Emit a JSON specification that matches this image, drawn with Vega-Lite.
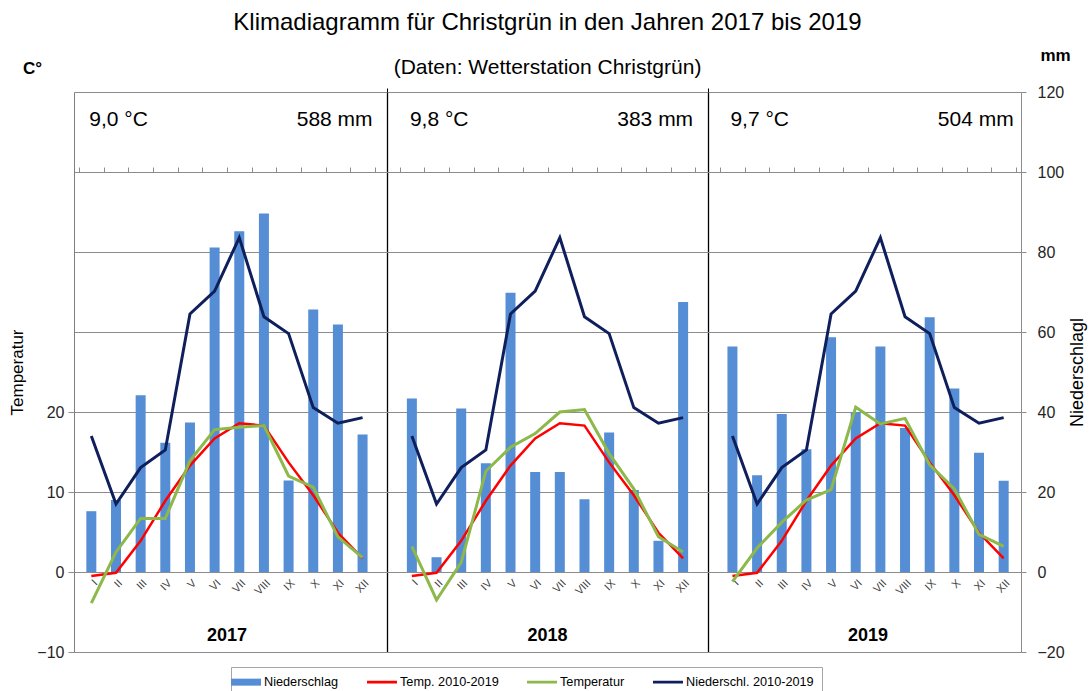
{
  "$schema": "https://vega.github.io/schema/vega-lite/v6.json",
  "width": 947,
  "height": 560,
  "autosize": {"type": "none"},
  "padding": {"left": 74, "top": 92, "right": 68, "bottom": 39},
  "title": {
    "text": "Klimadiagramm für Christgrün in den Jahren 2017 bis 2019",
    "subtitle": "(Daten: Wetterstation Christgrün)",
    "fontSize": 24,
    "fontWeight": "normal",
    "subtitleFontSize": 21,
    "subtitlePadding": 22,
    "anchor": "middle",
    "offset": -32,
    "color": "#000000",
    "subtitleColor": "#000000",
    "font": "Liberation Sans",
    "subtitleFont": "Liberation Sans"
  },
  "config": {
    "font": "Liberation Sans",
    "view": {"stroke": null},
    "axis": {
      "labelFont": "Liberation Sans",
      "titleFont": "Liberation Sans",
      "labelColor": "#262626",
      "titleColor": "#000000",
      "titleFontWeight": "normal",
      "domainColor": "#8c8c8c",
      "tickColor": "#8c8c8c",
      "gridColor": "#8c8c8c",
      "gridOpacity": 1
    }
  },
  "datasets": {
    "months": [
      {"m": 1, "year": "2017", "mon": "I", "N": 15.2, "T": -3.9, "TA": -0.5, "NA": 34.0},
      {"m": 2, "year": "2017", "mon": "II", "N": 18.0, "T": 2.5, "TA": -0.1, "NA": 17.0},
      {"m": 3, "year": "2017", "mon": "III", "N": 44.2, "T": 6.7, "TA": 3.9, "NA": 26.1},
      {"m": 4, "year": "2017", "mon": "IV", "N": 32.3, "T": 6.7, "TA": 8.9, "NA": 30.5},
      {"m": 5, "year": "2017", "mon": "V", "N": 37.4, "T": 13.9, "TA": 13.3, "NA": 64.5},
      {"m": 6, "year": "2017", "mon": "VI", "N": 81.1, "T": 17.8, "TA": 16.7, "NA": 70.2},
      {"m": 7, "year": "2017", "mon": "VII", "N": 85.2, "T": 18.1, "TA": 18.6, "NA": 83.6},
      {"m": 8, "year": "2017", "mon": "VIII", "N": 89.6, "T": 18.3, "TA": 18.3, "NA": 63.8},
      {"m": 9, "year": "2017", "mon": "IX", "N": 22.9, "T": 12.0, "TA": 13.7, "NA": 59.6},
      {"m": 10, "year": "2017", "mon": "X", "N": 65.6, "T": 10.6, "TA": 9.6, "NA": 41.1},
      {"m": 11, "year": "2017", "mon": "XI", "N": 61.9, "T": 4.4, "TA": 4.9, "NA": 37.2},
      {"m": 12, "year": "2017", "mon": "XII", "N": 34.4, "T": 1.8, "TA": 1.7, "NA": 38.6},
      {"m": 14, "year": "2018", "mon": "I", "N": 43.4, "T": 3.2, "TA": -0.5, "NA": 34.0},
      {"m": 15, "year": "2018", "mon": "II", "N": 3.7, "T": -3.5, "TA": -0.1, "NA": 17.0},
      {"m": 16, "year": "2018", "mon": "III", "N": 40.9, "T": 1.2, "TA": 3.9, "NA": 26.1},
      {"m": 17, "year": "2018", "mon": "IV", "N": 27.2, "T": 12.6, "TA": 8.9, "NA": 30.5},
      {"m": 18, "year": "2018", "mon": "V", "N": 69.8, "T": 15.6, "TA": 13.3, "NA": 64.5},
      {"m": 19, "year": "2018", "mon": "VI", "N": 25.0, "T": 17.3, "TA": 16.7, "NA": 70.2},
      {"m": 20, "year": "2018", "mon": "VII", "N": 25.0, "T": 20.0, "TA": 18.6, "NA": 83.6},
      {"m": 21, "year": "2018", "mon": "VIII", "N": 18.2, "T": 20.3, "TA": 18.3, "NA": 63.8},
      {"m": 22, "year": "2018", "mon": "IX", "N": 34.9, "T": 14.8, "TA": 13.7, "NA": 59.6},
      {"m": 23, "year": "2018", "mon": "X", "N": 20.5, "T": 10.4, "TA": 9.6, "NA": 41.1},
      {"m": 24, "year": "2018", "mon": "XI", "N": 7.8, "T": 4.4, "TA": 4.9, "NA": 37.2},
      {"m": 25, "year": "2018", "mon": "XII", "N": 67.5, "T": 2.5, "TA": 1.7, "NA": 38.6},
      {"m": 27, "year": "2019", "mon": "I", "N": 56.4, "T": -1.2, "TA": -0.5, "NA": 34.0},
      {"m": 28, "year": "2019", "mon": "II", "N": 24.2, "T": 3.0, "TA": -0.1, "NA": 17.0},
      {"m": 29, "year": "2019", "mon": "III", "N": 39.5, "T": 6.2, "TA": 3.9, "NA": 26.1},
      {"m": 30, "year": "2019", "mon": "IV", "N": 30.7, "T": 9.0, "TA": 8.9, "NA": 30.5},
      {"m": 31, "year": "2019", "mon": "V", "N": 58.7, "T": 10.3, "TA": 13.3, "NA": 64.5},
      {"m": 32, "year": "2019", "mon": "VI", "N": 40.0, "T": 20.6, "TA": 16.7, "NA": 70.2},
      {"m": 33, "year": "2019", "mon": "VII", "N": 56.4, "T": 18.5, "TA": 18.6, "NA": 83.6},
      {"m": 34, "year": "2019", "mon": "VIII", "N": 36.0, "T": 19.2, "TA": 18.3, "NA": 63.8},
      {"m": 35, "year": "2019", "mon": "IX", "N": 63.7, "T": 13.4, "TA": 13.7, "NA": 59.6},
      {"m": 36, "year": "2019", "mon": "X", "N": 45.9, "T": 10.4, "TA": 9.6, "NA": 41.1},
      {"m": 37, "year": "2019", "mon": "XI", "N": 29.8, "T": 4.7, "TA": 4.9, "NA": 37.2},
      {"m": 38, "year": "2019", "mon": "XII", "N": 22.8, "T": 3.2, "TA": 1.7, "NA": 38.6}
    ],
    "annual": [
      {"year": "2017", "tl": "9,0 °C", "pl": "588 mm"},
      {"year": "2018", "tl": "9,8 °C", "pl": "383 mm"},
      {"year": "2019", "tl": "9,7 °C", "pl": "504 mm"}
    ]
  },
  "data": {"name": "months"},
  "resolve": {
    "scale": {"y": "independent"},
    "axis": {"x": "independent", "y": "independent"}
  },
  "layer": [
    {
      "mark": {"type": "bar", "size": 10},
      "encoding": {
        "x": {
          "field": "m", "type": "quantitative",
          "scale": {"domain": [0.5, 38.5], "nice": false, "zero": false},
          "axis": {
            "values": [1,2,3,4,5,6,7,8,9,10,11,12,14,15,16,17,18,19,20,21,22,23,24,25,27,28,29,30,31,32,33,34,35,36,37,38],
            "labelExpr": "['I','II','III','IV','V','VI','VII','VIII','IX','X','XI','XII'][(datum.value - 1) % 13]",
            "labelAngle": -45,
            "labelFontSize": 11,
            "labelColor": "#404040",
            "labelPadding": 5,
            "labelOverlap": false,
            "labelBound": false,
            "labelFlush": false,
            "ticks": false,
            "tickSize": 0,
            "domain": false,
            "grid": false,
            "offset": -80,
            "title": null
          }
        },
        "y": {
          "field": "N", "type": "quantitative",
          "scale": {"domain": [-20, 120], "nice": false, "zero": false},
          "axis": {
            "orient": "right",
            "values": [-20, 0, 20, 40, 60, 80, 100, 120],
            "labelFontSize": 16,
            "tickSize": 5,
            "labelPadding": 11,
            "grid": false,
            "title": "Niederschlagl",
            "titleAngle": 270,
            "titleFontSize": 18,
            "titlePadding": 22
          }
        },
        "y2": {"datum": 0},
        "color": {
          "datum": "Niederschlag",
          "scale": {
            "domain": ["Niederschlag", "Temp. 2010-2019", "Temperatur", "Niederschl. 2010-2019"],
            "range": ["#558ED5", "#FF0000", "#8DB84A", "#0F1F5C"]
          },
          "legend": {
            "orient": "none",
            "legendX": 157,
            "legendY": 575,
            "direction": "horizontal",
            "title": null,
            "symbolType": "M-2.14,-0.5L-2.14,-0.5M-2.14,-0.21H2.14V0.21H-2.14ZM2.14,0.5L2.14,0.5",
            "symbolSize": 196,
            "symbolStrokeWidth": 0,
            "labelFontSize": 12.7,
            "labelFont": "Liberation Sans",
            "labelColor": "#000000",
            "labelOffset": 11,
            "columnPadding": 28,
            "padding": 8,
            "strokeColor": "#A6A6A6",
            "fillColor": "#ffffff",
            "encode": {
              "symbols": {
                "update": {
                  "shape": {"signal": "datum.value === 'Niederschlag' ? 'M-2.14,-0.5H2.14V0.5H-2.14Z' : 'M-2.14,-0.5L-2.14,-0.5M-2.14,-0.21H2.14V0.21H-2.14ZM2.14,0.5L2.14,0.5'"},
                  "fill": {"scale": "color", "field": "value"},
                  "stroke": {"value": "transparent"},
                  "strokeWidth": {"value": 0},
                  "opacity": {"value": 1}
                }
              }
            }
          }
        }
      }
    },
    {
      "mark": {"type": "line", "strokeWidth": 2.5},
      "encoding": {
        "x": {
          "field": "m", "type": "quantitative",
          "axis": {
            "values": [13, 26],
            "grid": true,
            "gridColor": "#000000",
            "gridWidth": 1.3,
            "labels": false,
            "ticks": true,
            "tickColor": "#000000",
            "tickSize": 4,
            "domain": false,
            "title": null
          }
        },
        "y": {
          "field": "TA", "type": "quantitative",
          "scale": {"domain": [-10, 60], "nice": false, "zero": false},
          "axis": {
            "orient": "left",
            "values": [-10, 0, 10, 20],
            "labelFontSize": 16,
            "tickSize": 6,
            "labelPadding": 4,
            "domainColor": "#7f7f7f",
            "grid": false,
            "title": "Temperatur",
            "titleFontSize": 17,
            "titlePadding": 10
          }
        },
        "detail": {"field": "year"},
        "color": {"datum": "Temp. 2010-2019"}
      }
    },
    {
      "mark": {"type": "line", "strokeWidth": 3},
      "encoding": {
        "x": {"field": "m", "type": "quantitative", "axis": null},
        "y": {
          "field": "T", "type": "quantitative",
          "scale": {"domain": [-10, 60], "nice": false, "zero": false},
          "axis": {
            "orient": "left",
            "values": [-10, 0, 10, 20, 30, 40, 50, 60],
            "grid": true,
            "labels": false,
            "ticks": false,
            "domain": false,
            "title": "C°",
            "titleAngle": 0,
            "titleX": -42,
            "titleY": -24,
            "titleAlign": "center",
            "titleBaseline": "middle",
            "titleFontSize": 17,
            "titleFontWeight": "bold"
          }
        },
        "detail": {"field": "year"},
        "color": {"datum": "Temperatur"}
      }
    },
    {
      "mark": {"type": "line", "strokeWidth": 3},
      "encoding": {
        "x": {
          "field": "m", "type": "quantitative",
          "axis": {
            "values": [0.5,1.5,2.5,3.5,4.5,5.5,6.5,7.5,8.5,9.5,10.5,11.5,12.5,13.5,14.5,15.5,16.5,17.5,18.5,19.5,20.5,21.5,22.5,23.5,24.5,25.5,26.5,27.5,28.5,29.5,30.5,31.5,32.5,33.5,34.5,35.5,36.5,37.5,38.5],
            "labels": false,
            "ticks": true,
            "tickSize": 5,
            "domain": true,
            "grid": false,
            "offset": -80,
            "title": null
          }
        },
        "y": {
          "field": "NA", "type": "quantitative",
          "scale": {"domain": [-20, 120], "nice": false, "zero": false},
          "axis": {
            "orient": "right",
            "values": [120],
            "labels": false,
            "ticks": false,
            "domain": false,
            "grid": false,
            "title": "mm",
            "titleAngle": 0,
            "titleX": 34,
            "titleY": -37,
            "titleAlign": "center",
            "titleBaseline": "middle",
            "titleFontSize": 17,
            "titleFontWeight": "bold"
          }
        },
        "detail": {"field": "year"},
        "color": {"datum": "Niederschl. 2010-2019"}
      }
    },
    {
      "mark": {"type": "text", "fontSize": 18, "fontWeight": "bold", "color": "#000000", "baseline": "middle"},
      "encoding": {
        "x": {"aggregate": "mean", "field": "m", "type": "quantitative", "axis": null},
        "y": {"datum": -16, "type": "quantitative", "scale": {"domain": [-20, 120], "nice": false, "zero": false}, "axis": null},
        "text": {"field": "year"}
      }
    },
    {
      "transform": [
        {"filter": "datum.mon === 'I'"},
        {"lookup": "year", "from": {"data": {"name": "annual"}, "key": "year", "fields": ["tl", "pl"]}}
      ],
      "mark": {"type": "text", "fontSize": 21, "color": "#000000", "align": "left", "baseline": "middle", "dx": -2},
      "encoding": {
        "x": {"field": "m", "type": "quantitative", "axis": null},
        "y": {"datum": 113, "type": "quantitative", "scale": {"domain": [-20, 120], "nice": false, "zero": false}, "axis": null},
        "text": {"field": "tl"}
      }
    },
    {
      "transform": [
        {"filter": "datum.mon === 'XII'"},
        {"lookup": "year", "from": {"data": {"name": "annual"}, "key": "year", "fields": ["tl", "pl"]}}
      ],
      "mark": {"type": "text", "fontSize": 21, "color": "#000000", "align": "right", "baseline": "middle", "dx": 10},
      "encoding": {
        "x": {"field": "m", "type": "quantitative", "axis": null},
        "y": {"datum": 113, "type": "quantitative", "scale": {"domain": [-20, 120], "nice": false, "zero": false}, "axis": null},
        "text": {"field": "pl"}
      }
    }
  ]
}
